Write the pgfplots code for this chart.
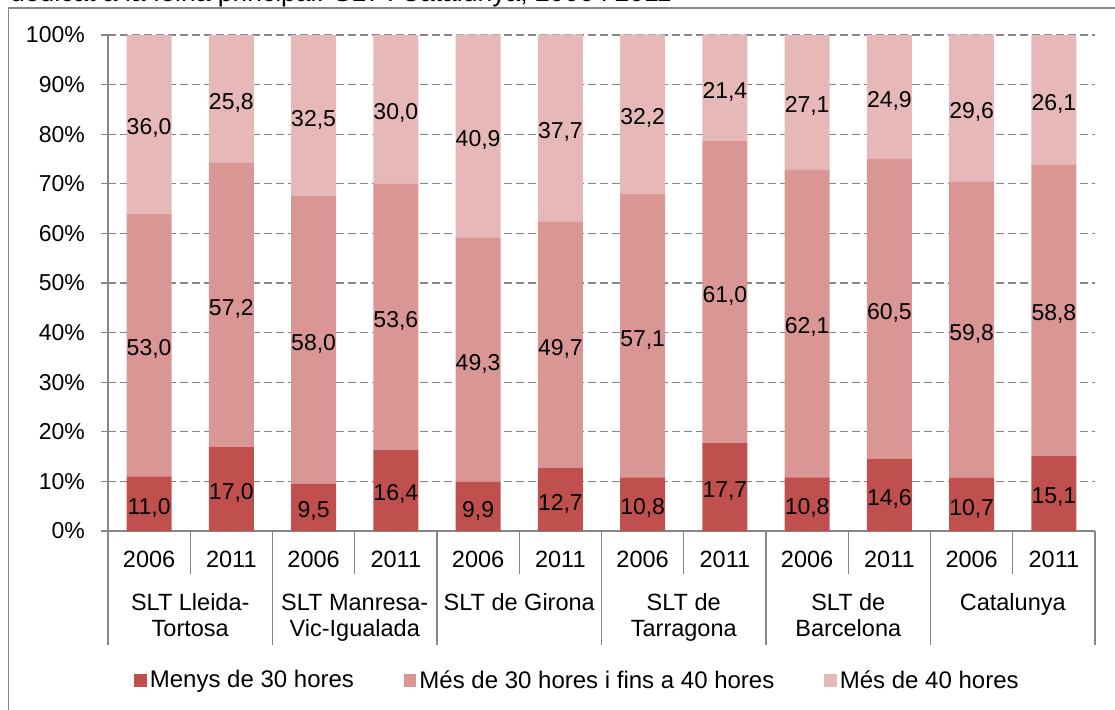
\documentclass[border=0pt]{standalone}
\usepackage{fontspec}
\setmainfont{Liberation Sans}
\usepackage{pgfplots}
\pgfplotsset{compat=1.18}
\usepackage{pgfplotstable}
\definecolor{low}{HTML}{C0504D}
\definecolor{mid}{HTML}{D99694}
\definecolor{high}{HTML}{E6B9B8}
\definecolor{axisgray}{HTML}{868686}

% share of workers by weekly hours (%), SLT i Catalunya
\pgfplotstableread{
x low mid high
0 11.0 53.0 36.0
1 17.0 57.2 25.8
2 9.5 58.0 32.5
3 16.4 53.6 30.0
4 9.9 49.3 40.9
5 12.7 49.7 37.7
6 10.8 57.1 32.2
7 17.7 61.0 21.4
8 10.8 62.1 27.1
9 14.6 60.5 24.9
10 10.7 59.8 29.6
11 15.1 58.8 26.1
}\hours

\tikzset{catlabel/.style={anchor=base, inner sep=0pt, font=\fontsize{23.5}{26}\selectfont}}

\pgfplotsset{
  sq legend/.style={legend image code/.code={\fill[##1] (0pt,-6.5pt) rectangle (12.5pt,6.5pt);}},
}

\begin{document}
\begin{tikzpicture}[x=1pt,y=1pt,font=\fontsize{23}{26}\selectfont]
\useasboundingbox (0,0) rectangle (1115,709);
\clip (0,0) rectangle (1115,709);
\node[anchor=base west, inner sep=0pt, font=\fontsize{26.5}{30}\selectfont] at (10,707) {dedicat a la feina principal. SLT i Catalunya, 2006 i 2011};
\draw[axisgray, line width=1.4pt] (8.5,-5) -- (8.5,701) -- (1125,701);
\begin{axis}[
  at={(108pt,178pt)}, anchor=south west,
  scale only axis, width=987pt, height=496pt,
  ybar stacked, bar width=45pt,
  xmin=-0.5, xmax=11.5, ymin=0, ymax=100,
  clip=false,
  axis x line*=bottom, axis y line*=left,
  axis line style={axisgray, line width=1.2pt, -},
  every outer x axis line/.append style={-},
  every outer y axis line/.append style={-},
  /pgf/number format/assume math mode=true,
  ytick={0,10,...,100},
  yticklabel={\pgfmathprintnumber{\tick}\%},
  ytick style={axisgray, line width=1.2pt},
  tick align=center, major tick length=14pt,
  yticklabel style={anchor=east, inner sep=0pt, xshift=-16pt},
  ymajorgrids,
  grid style={axisgray, line width=1.2pt, dash pattern=on 8pt off 4pt},
  xtick=\empty,
  point meta=rawy,
  nodes near coords={\pgfmathprintnumber[fixed,fixed zerofill,precision=1,use comma]{\pgfplotspointmeta}},
  every node near coord/.append style={text=black, inner sep=0pt, anchor=center, yshift=-4pt},
  legend columns=3,
  legend style={at={(0.4762,-0.3004)}, anchor=center, draw=none, fill=none,
    font=\fontsize{24}{28}\selectfont,
    nodes={inner xsep=3pt, inner ysep=2pt},
    /tikz/every even column/.append style={column sep=47pt}},
  legend cell align=left,
]
\addplot[fill=low, draw=none, sq legend] table[x=x, y=low] {\hours};
\addplot[fill=mid, draw=none, sq legend] table[x=x, y=mid] {\hours};
\addplot[fill=high, draw=none, sq legend] table[x=x, y=high] {\hours};
\legend{Menys de 30 hores, Més de 30 hores i fins a 40 hores, Més de 40 hores}
% separators of the two-level category axis
\pgfplotsinvokeforeach{0.5,2.5,4.5,6.5,8.5,10.5}{\draw[axisgray, line width=1.2pt] (axis cs:#1,0) -- ++(0pt,-43pt);}
\pgfplotsinvokeforeach{-0.5,1.5,3.5,5.5,7.5,9.5,11.5}{\draw[axisgray, line width=1.2pt] (axis cs:#1,0) -- ++(0pt,-114pt);}
% years
\pgfplotsinvokeforeach{0,2,4,6,8,10}{\node[catlabel, yshift=-36.5pt] at (axis cs:#1,0) {2006};}
\pgfplotsinvokeforeach{1,3,5,7,9,11}{\node[catlabel, yshift=-36.5pt] at (axis cs:#1,0) {2011};}
% territories
\node[catlabel, yshift=-79pt] at (axis cs:0.5,0) {SLT Lleida-};
\node[catlabel, yshift=-105pt] at (axis cs:0.5,0) {Tortosa};
\node[catlabel, yshift=-79pt] at (axis cs:2.5,0) {SLT Manresa-};
\node[catlabel, yshift=-105pt] at (axis cs:2.5,0) {Vic-Igualada};
\node[catlabel, yshift=-79pt] at (axis cs:4.5,0) {SLT de Girona};
\node[catlabel, yshift=-79pt] at (axis cs:6.5,0) {SLT de};
\node[catlabel, yshift=-105pt] at (axis cs:6.5,0) {Tarragona};
\node[catlabel, yshift=-79pt] at (axis cs:8.5,0) {SLT de};
\node[catlabel, yshift=-105pt] at (axis cs:8.5,0) {Barcelona};
\node[catlabel, yshift=-79pt] at (axis cs:10.5,0) {Catalunya};
\end{axis}
\end{tikzpicture}
\end{document}
